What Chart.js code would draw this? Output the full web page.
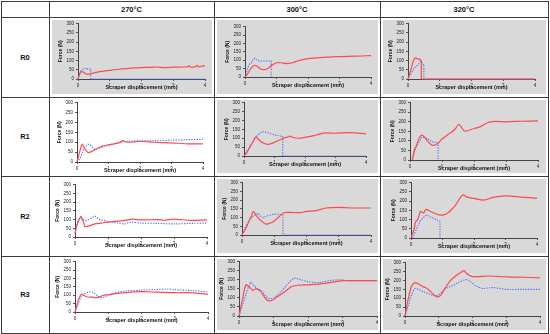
<!DOCTYPE html>
<html><head><meta charset="utf-8">
<script src="https://cdn.jsdelivr.net/npm/chart.js@4.4.0/dist/chart.umd.min.js"></script>
<style>
html,body{margin:0;padding:0;background:#fff}
body{width:550px;height:334px;position:relative;overflow:hidden;font-family:"Liberation Sans",Arial,sans-serif}
.ln{position:absolute;background:#3c3c3c}
.lbl{position:absolute;font-weight:bold;font-size:7.5px;color:#111;display:flex;align-items:center;justify-content:center}
.panel{position:absolute}
canvas{position:absolute}
</style></head><body>
<script>
// ---------- data ----------
const temperatures = ['270°C', '300°C', '320°C'];
const ratios = ['R0', 'R1', 'R2', 'R3'];
const xTicks = [0, 1, 2, 3, 4];
const yTicks = [0, 50, 100, 150, 200, 250, 300];
const xTitle = 'Scraper displacement (mm)';
const yTitle = 'Force (N)';

const R0_270_red = [[0,0],[0.05,25],[0.1,40],[0.15,38],[0.2,35],[0.25,28],[0.3,25],[0.4,28],[0.5,33],[0.7,40],[1,47],[1.3,53],[1.6,58],[2,62],[2.3,63],[2.5,65],[2.7,62],[3,64],[3.3,65],[3.45,66],[3.5,72],[3.55,64],[3.7,67],[3.75,74],[3.8,66],[3.9,70],[4,71]];
const R0_270_blue = [[0,0],[0.05,30],[0.1,48],[0.15,52],[0.2,58],[0.25,55],[0.3,55],[0.4,55],[0.4,0],[4,0]];
const R0_300_red = [[0,0],[0.1,25],[0.2,55],[0.3,70],[0.4,62],[0.5,48],[0.6,44],[0.7,48],[0.8,62],[0.9,75],[1.0,85],[1.15,85],[1.3,80],[1.5,85],[1.7,98],[2,110],[2.5,117],[3,122],[3.5,124],[4,128]];
const R0_300_blue = [[0,0],[0.05,30],[0.1,60],[0.15,80],[0.2,85],[0.25,100],[0.3,112],[0.35,105],[0.45,95],[0.83,95],[0.83,0]];
const R0_320_red = [[0,0],[0.05,25],[0.1,55],[0.15,90],[0.2,110],[0.25,115],[0.3,108],[0.35,110],[0.4,102],[0.42,100],[0.42,0],[4,0]];
const R0_320_blue = [[0,0],[0.1,30],[0.2,60],[0.3,75],[0.35,85],[0.4,97],[0.43,92],[0.45,80],[0.5,80],[0.5,0],[4,0]];

const R1_270_red = [[0,0],[0.05,30],[0.1,60],[0.17,90],[0.25,65],[0.35,48],[0.45,52],[0.6,65],[0.8,80],[1.0,87],[1.2,92],[1.35,98],[1.45,108],[1.6,100],[1.8,102],[2,105],[2.5,100],[3,97],[3.5,92],[4,92]];
const R1_270_blue = [[0,0],[0.1,20],[0.2,60],[0.3,82],[0.35,90],[0.45,82],[0.55,65],[0.65,68],[0.8,75],[1.0,85],[1.2,95],[1.4,100],[1.6,105],[2,107],[2.5,108],[3,110],[3.5,113],[4,115]];
const R1_300_red = [[0,0],[0.1,20],[0.2,55],[0.3,80],[0.35,100],[0.4,108],[0.45,98],[0.55,82],[0.65,72],[0.75,66],[0.9,70],[1.1,85],[1.3,100],[1.45,108],[1.5,112],[1.6,104],[1.8,100],[2.0,105],[2.3,115],[2.5,125],[2.7,130],[3,128],[3.5,132],[4,125]];
const R1_300_blue = [[0,0],[0.1,30],[0.2,50],[0.35,100],[0.5,125],[0.6,138],[0.8,130],[1.0,118],[1.2,112],[1.27,110],[1.27,0],[4,0]];
const R1_320_red = [[0.07,0],[0.12,40],[0.15,60],[0.2,75],[0.25,100],[0.3,118],[0.35,130],[0.4,128],[0.5,110],[0.6,90],[0.7,77],[0.8,80],[0.9,92],[1.0,110],[1.2,135],[1.4,160],[1.53,187],[1.7,152],[2.0,165],[2.2,175],[2.5,200],[3,200],[3.5,203],[4,205]];
const R1_320_blue = [[0.08,0],[0.15,50],[0.25,85],[0.35,115],[0.4,120],[0.5,115],[0.6,105],[0.7,95],[0.88,90],[0.88,0]];

const R2_270_red = [[0,20],[0.05,60],[0.1,90],[0.15,110],[0.18,118],[0.25,90],[0.3,60],[0.4,62],[0.6,75],[0.8,80],[1,85],[1.5,95],[1.75,102],[2,98],[2.5,100],[2.7,96],[3,103],[3.5,95],[4,98]];
const R2_270_blue = [[0,40],[0.05,70],[0.1,95],[0.2,105],[0.3,95],[0.4,100],[0.55,115],[0.6,120],[0.75,100],[1,90],[1.3,80],[1.5,75],[1.7,85],[2,80],[2.5,78],[3,75],[3.5,78],[4,80]];
const R2_300_red = [[0,0],[0.15,50],[0.25,95],[0.3,110],[0.35,135],[0.45,110],[0.6,80],[0.75,62],[0.9,70],[1.0,80],[1.15,105],[1.3,128],[1.5,130],[1.8,128],[2,135],[2.3,140],[2.6,155],[3,158],[3.5,155],[4,155]];
const R2_300_blue = [[0,0],[0.15,60],[0.3,100],[0.45,120],[0.5,125],[0.55,110],[0.65,100],[0.8,110],[1.0,120],[1.15,118],[1.27,115],[1.27,0],[4,0]];
const R2_320_red = [[0,0],[0.1,50],[0.15,90],[0.2,95],[0.25,120],[0.3,145],[0.35,140],[0.4,135],[0.45,150],[0.5,155],[0.6,145],[0.8,130],[1.0,124],[1.2,140],[1.4,175],[1.64,233],[1.8,220],[2.0,215],[2.3,205],[2.6,220],[3.0,228],[3.5,222],[4,215]];
const R2_320_blue = [[0.05,0],[0.2,60],[0.3,95],[0.45,120],[0.5,125],[0.6,115],[0.8,100],[0.92,88],[0.92,0]];

const R3_270_red = [[0,0],[0.1,70],[0.2,107],[0.3,95],[0.4,88],[0.5,90],[0.6,85],[0.75,90],[0.85,100],[1.0,103],[1.5,115],[2,121],[2.5,118],[3,115],[3.5,115],[4,105]];
const R3_270_blue = [[0,0],[0.1,50],[0.2,95],[0.3,110],[0.45,121],[0.55,115],[0.7,95],[0.8,85],[0.9,90],[1.0,100],[1.2,115],[1.5,125],[2,130],[2.5,135],[2.8,137],[3,133],[3.5,128],[4,120]];
const R3_300_red = [[0,0],[0.1,90],[0.2,172],[0.3,160],[0.4,142],[0.5,150],[0.6,140],[0.7,115],[0.8,90],[0.9,84],[1.0,90],[1.1,105],[1.3,130],[1.5,160],[1.7,170],[2.0,172],[2.5,180],[3,195],[3.5,195],[4,195]];
const R3_300_blue = [[0,0],[0.1,60],[0.2,120],[0.3,170],[0.35,186],[0.45,165],[0.55,150],[0.65,140],[0.8,105],[0.9,95],[1.0,100],[1.2,130],[1.4,175],[1.6,208],[1.8,200],[2.0,190],[2.3,185],[2.6,195],[2.9,200],[3.2,195],[3.5,195],[4,195]];
const R3_320_red = [[0,0],[0.1,100],[0.2,170],[0.3,188],[0.4,180],[0.5,168],[0.6,160],[0.7,148],[0.85,120],[0.95,108],[1.05,115],[1.2,160],[1.35,200],[1.5,225],[1.65,245],[1.75,255],[1.85,235],[2.0,222],[2.5,225],[3,220],[3.5,218],[4,215]];
const R3_320_blue = [[0,0],[0.1,60],[0.2,120],[0.3,155],[0.4,150],[0.5,140],[0.7,125],[0.85,115],[1.0,120],[1.2,155],[1.4,170],[1.6,190],[1.8,205],[1.9,200],[2.1,170],[2.3,155],[2.6,160],[3.0,150],[3.5,150],[4,150]];

const seriesGrid = [
  [[R0_270_red, R0_270_blue], [R0_300_red, R0_300_blue], [R0_320_red, R0_320_blue]],
  [[R1_270_red, R1_270_blue], [R1_300_red, R1_300_blue], [R1_320_red, R1_320_blue]],
  [[R2_270_red, R2_270_blue], [R2_300_red, R2_300_blue], [R2_320_red, R2_320_blue]],
  [[R3_270_red, R3_270_blue], [R3_300_red, R3_300_blue], [R3_320_red, R3_320_blue]]
];

// ---------- layout (pixels) ----------
const colLines = [1, 49, 214, 380, 548];
const rowLines = [1, 17, 97, 176, 256, 333];
// plot area per chart: [yAxis x, x of tick 4, y of 300, y of 0]
const plotBoxes = [
  [[78,205,23,79], [245,371,26,77], [408,535,23,79]],
  [[77,203,102,162], [244,366,102,156], [410,538,102,160]],
  [[75,207,184,237], [242,371,182,235], [411,537,182,238]],
  [[75,208,261,312], [239,377,261,316], [405,540,262,316]]
];
const Y_W = 20, X_H = 12, PAD_T = 4, PAD_R = 5;
const RED = '#ff4a4a', BLUE = '#4d6cff', PANEL = '#d9d9d9';
const FONT = '"Liberation Sans", Arial, sans-serif';

function div(cls, l, t, w, h, extra) {
  const d = document.createElement('div');
  d.className = cls;
  Object.assign(d.style, {left: l + 'px', top: t + 'px', width: w + 'px', height: h + 'px'}, extra || {});
  document.body.appendChild(d);
  return d;
}

// panels
for (let r = 0; r < 4; r++) for (let c = 0; c < 3; c++) {
  if (c === 0 && r > 0) continue;
  const l = colLines[c + 1] + 3, rr = colLines[c + 2] - 2;
  const t = rowLines[r + 1] + 3, b = rowLines[r + 2] - 3;
  div('panel', l, t, rr - l, b - t, {background: PANEL});
}
// table lines
colLines.forEach(x => div('ln', x, rowLines[0], 1, rowLines[rowLines.length - 1] - rowLines[0] + 1));
rowLines.forEach(y => div('ln', colLines[0], y, colLines[colLines.length - 1] - colLines[0] + 1, 1));
// header labels
temperatures.forEach((t, i) => {
  const d = div('lbl', colLines[i + 1], rowLines[0], colLines[i + 2] - colLines[i + 1], rowLines[1] - rowLines[0]);
  d.textContent = t;
});
ratios.forEach((t, i) => {
  const d = div('lbl', colLines[0], rowLines[i + 1], colLines[1] - colLines[0], rowLines[i + 2] - rowLines[i + 1]);
  d.textContent = t;
});

function toPts(arr) { return arr.map(p => ({x: p[0], y: p[1]})); }
function hasDrop(arr) { return arr.some((p, i) => i > 0 && p[0] === arr[i - 1][0]); }

for (let r = 0; r < 4; r++) for (let c = 0; c < 3; c++) {
  const [ax, x4, y3, y0] = plotBoxes[r][c];
  const cv = document.createElement('canvas');
  const W = Y_W + (x4 - ax) + PAD_R, H = PAD_T + (y0 - y3) + X_H;
  cv.width = W; cv.height = H;
  Object.assign(cv.style, {left: (ax - Y_W) + 'px', top: (y3 - PAD_T) + 'px', width: W + 'px', height: H + 'px'});
  document.body.appendChild(cv);
  const [red, blue] = seriesGrid[r][c];
  new Chart(cv, {
    type: 'line',
    data: {
      datasets: [
        {data: toPts(red), borderColor: RED, borderWidth: 1.2, pointRadius: 0, tension: hasDrop(red) ? 0 : 0.3, clip: 2},
        {data: toPts(blue), borderColor: BLUE, borderWidth: 1.1, borderDash: [1.3, 1.3], pointRadius: 0, tension: hasDrop(blue) ? 0 : 0.3, clip: 2}
      ]
    },
    options: {
      responsive: false, animation: false, devicePixelRatio: 1,
      layout: {padding: {top: PAD_T, right: PAD_R, left: 0, bottom: 0}},
      plugins: {legend: {display: false}, tooltip: {enabled: false}},
      scales: {
        x: {
          type: 'linear', min: 0, max: 4,
          afterBuildTicks: s => { s.ticks = xTicks.map(v => ({value: v})); },
          afterFit: s => { s.height = X_H; },
          grid: {display: true, drawOnChartArea: false, tickLength: 2, color: '#555'},
          border: {display: true, color: '#444', width: 1},
          ticks: {font: {size: 4.5, family: FONT}, color: '#222', padding: 2, maxRotation: 0, minRotation: 0, autoSkip: false},
          title: {display: true, text: xTitle, font: {size: 5.5, weight: 'bold', family: FONT}, color: '#111', padding: {top: 0, bottom: 0}}
        },
        y: {
          type: 'linear', min: 0, max: 300,
          afterBuildTicks: s => { s.ticks = yTicks.map(v => ({value: v})); },
          afterFit: s => { s.width = Y_W; },
          grid: {display: true, drawOnChartArea: false, tickLength: 2, color: '#555'},
          border: {display: true, color: '#444', width: 1},
          ticks: {font: {size: 4.5, family: FONT}, color: '#222', padding: 2, autoSkip: false},
          title: {display: true, text: yTitle, font: {size: 5, weight: 'bold', family: FONT}, color: '#111', padding: {top: 0, bottom: 0}}
        }
      }
    }
  });
}
</script>
</body></html>
